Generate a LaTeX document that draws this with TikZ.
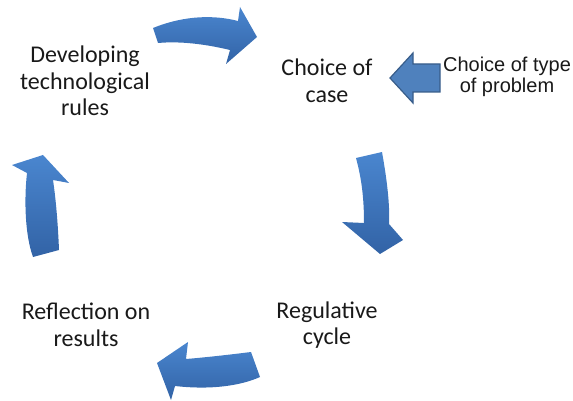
\documentclass[tikz,border=0pt]{standalone}
\usepackage{fontspec}
\setmainfont{Carlito}
\newfontfamily\arialfont{Liberation Sans}
\definecolor{arrowtop}{RGB}{74,134,207}
\definecolor{arrowbot}{RGB}{50,99,166}
\definecolor{blockfill}{RGB}{79,129,189}
\definecolor{blockline}{RGB}{56,93,138}
\definecolor{ink}{RGB}{25,25,25}
\begin{document}
\begin{tikzpicture}[x=1pt,y=-1pt,
  lbl/.style={align=center, font=\fontsize{24}{26.5}\selectfont, text=ink, inner sep=0pt},
  note/.style={align=center, font=\arialfont\fontsize{20}{21.5}\selectfont, text=ink, inner sep=0pt},
  curved/.style={top color=arrowtop, bottom color=arrowbot, draw=none},
  block/.style={fill=blockfill, draw=blockline, line width=1.2pt, line join=miter}]
\useasboundingbox (0,0) rectangle (573,401);

% stage labels
\node[lbl] (dev) at (85,81) {Developing\\technological\\rules};
\node[lbl] (choice) at (327,81) {Choice of\\case};
\node[note] (type) at (507,77) {Choice of type\\of problem};
\node[lbl] (refl) at (86,325) {Reflection on\\results};
\node[lbl] (reg) at (327,325) {Regulative\\cycle};

% curved arrows of the cycle
\path[curved] (153,28) .. controls (185,15) and (215,15) .. (238,21)
  -- (240,7) -- (257,37) -- (226,64) -- (230,50)
  .. controls (205,44) and (180,41) .. (158,43) -- cycle;
\path[curved] (356,158) -- (382,152) .. controls (387,180) and (390,205) .. (389,224)
  -- (403,240) -- (380,254) -- (342,222) -- (364,223)
  .. controls (364,200) and (362,180) .. (356,158) -- cycle;
\path[curved] (157,363) -- (188,342) -- (186,359)
  .. controls (210,357) and (235,354) .. (251,352) -- (260,377)
  .. controls (240,386) and (210,390) .. (175,386) -- (171,400) -- cycle;
\path[curved] (43,155) -- (69,183) -- (53,180)
  .. controls (56,200) and (58,225) .. (59,250) -- (33,257)
  .. controls (25,235) and (24,200) .. (27,173) -- (12,165) -- cycle;

% straight block arrow
\path[block] (390,78) -- (413,53) -- (413,64) -- (440,64) -- (440,92)
  -- (413,92) -- (413,103) -- cycle;
\end{tikzpicture}
\end{document}
